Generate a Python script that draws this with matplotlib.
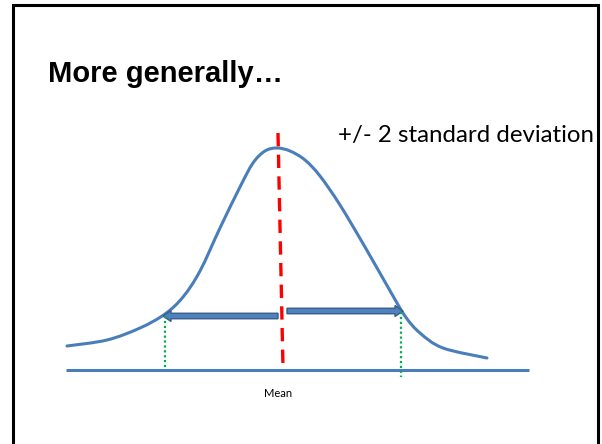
import matplotlib
matplotlib.use('Agg')
import matplotlib.pyplot as plt
from matplotlib.patches import FancyArrow, PathPatch
from matplotlib.path import Path

# curve (pixel coords, y downwards)
curve_x = [67, 107, 140, 165, 183, 200, 220, 240, 253, 265, 277, 290, 305, 320,
           340, 365, 389, 405, 420, 443, 487]
curve_y = [346, 340, 328, 314, 297, 271, 228, 187, 163, 151, 148, 151, 160, 176,
           205, 247, 289, 316, 333, 348, 358]

axis_x = [66, 529]
axis_y = [370, 370]
mean_x = [278, 283]
mean_y = [133, 368]
left_sd_x = [165, 165]
left_sd_y = [316, 369]
right_sd_x = [401, 401]
right_sd_y = [312, 377]
# arrows: start x, end x, y
arrows = [(278, 163, 316), (287, 403, 311)]

title = "More generally\u2026"
note = "+/- 2 standard deviation"
mean_label = "Mean"


def smooth_path(xs, ys):
    # catmull-rom through the read points, drawn as cubic bezier segments
    pts = list(zip(xs, ys))
    verts = [pts[0]]
    codes = [Path.MOVETO]
    for i in range(len(pts) - 1):
        p0 = pts[max(i - 1, 0)]
        p1 = pts[i]
        p2 = pts[i + 1]
        p3 = pts[min(i + 2, len(pts) - 1)]
        c1 = (p1[0] + (p2[0] - p0[0]) / 6, p1[1] + (p2[1] - p0[1]) / 6)
        c2 = (p2[0] - (p3[0] - p1[0]) / 6, p2[1] - (p3[1] - p1[1]) / 6)
        verts += [c1, c2, p2]
        codes += [Path.CURVE4] * 3
    return Path(verts, codes)


fig = plt.figure(figsize=(6.02, 4.44), dpi=100)
ax = fig.add_axes([0, 0, 1, 1])
ax.set_xlim(0, 602)
ax.set_ylim(444, 0)
ax.axis('off')

blue = '#4A7EBB'

# slide frame (bottom edge off the picture)
ax.plot([13, 13, 598, 598], [450, 5.5, 5.5, 450], color='black', lw=2.2, solid_joinstyle='miter')

ax.plot(axis_x, axis_y, color=blue, lw=2.2, solid_capstyle='butt')
ax.add_patch(PathPatch(smooth_path(curve_x, curve_y), fill=False, edgecolor=blue,
                       lw=2.2, capstyle='round', joinstyle='round'))
ax.plot(left_sd_x, left_sd_y, color='#00B050', lw=1.6, linestyle=(0, (1, 1.2)))
ax.plot(right_sd_x, right_sd_y, color='#00B050', lw=1.6, linestyle=(0, (1, 1.2)))
ax.plot(mean_x, mean_y, color='#FF0000', lw=2.4, linestyle=(0, (4, 2.5)))

for x0, x1, y in arrows:
    ax.add_patch(FancyArrow(x0, y, x1 - x0, 0, width=5.5, head_width=11, head_length=8,
                            length_includes_head=True, fc='#4F81BD', ec='#385D8A', lw=1))

ax.text(48, 82, title, fontsize=21, fontweight='bold', family='Liberation Sans',
        ha='left', va='baseline')
ax.text(338, 142, note, fontsize=17.3, family='Lato', ha='left', va='baseline')
ax.text(278, 397, mean_label, fontsize=8, family='Lato', ha='center', va='baseline')

fig.savefig('out.png', dpi=100)
